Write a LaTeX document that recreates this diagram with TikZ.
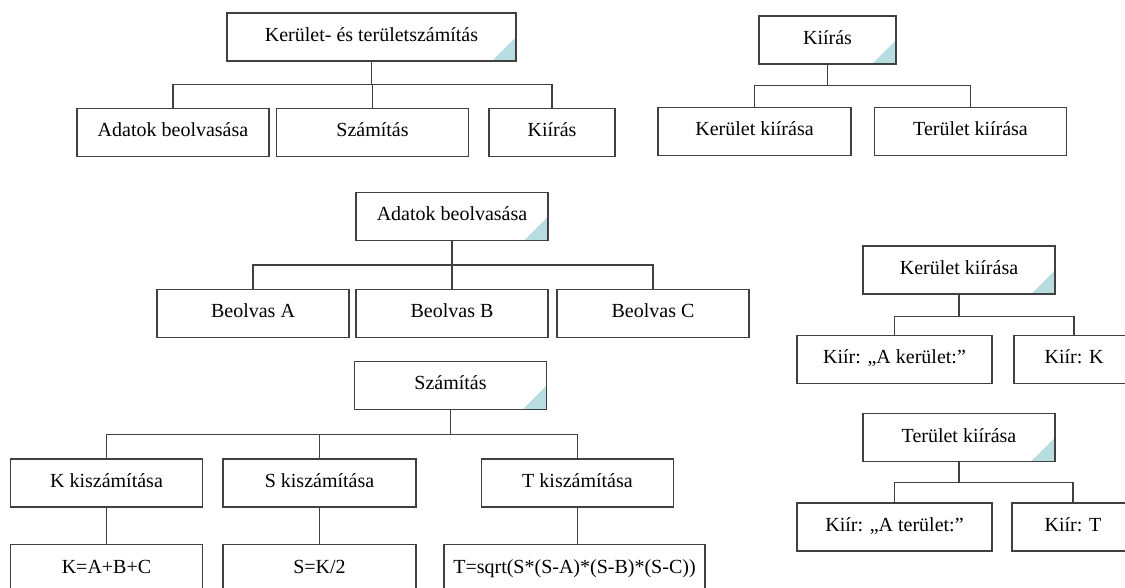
\documentclass[tikz,border=0pt]{standalone}
\usepackage{fontspec}
\setmainfont{Liberation Serif}
\definecolor{cornerblue}{RGB}{183,221,225}

\begin{document}
\begin{tikzpicture}[x=0.5pt,y=-0.5pt,
  box/.style={draw=black!75, line width=0.6pt, minimum width=96pt, minimum height=24pt,
    inner sep=0pt, text height=6.5pt, text depth=2pt, font=\fontsize{10}{12}\selectfont},
  boxw/.style={minimum width=#1*0.5pt},
  parent/.style={box, path picture={
    \fill[cornerblue] (path picture bounding box.south east) -- ++(-12pt,0) -- ++(12pt,12pt) -- cycle;}},
  link/.style={draw=black!75, line width=0.6pt}]

\useasboundingbox (0,0) rectangle (1125,588);
\clip (0,0) rectangle (1125,588);

% main program
\node[parent, boxw=289] (ker) at (371.5,37) {Kerület- és területszámítás};
\node[box] (adat) at (173,132.5) {Adatok beolvasása};
\node[box] (szam) at (372.5,132.5) {Számítás};
\node[box, boxw=126] (kiir) at (552,132.5) {Kiírás};
\foreach \c in {adat,szam,kiir}
  \draw[link] (ker.south) -- ++(0,23) -| (\c.north);

% output
\node[parent, boxw=137] (kiirp) at (827.5,40) {Kiírás};
\node[box, boxw=193] (kerk) at (754.5,131.5) {Kerület kiírása};
\node[box] (terk) at (970.5,131.5) {Terület kiírása};
\foreach \c in {kerk,terk}
  \draw[link] (kiirp.south) -- ++(0,21) -| (\c.north);

% input
\node[parent] (adatp) at (452,216.5) {Adatok beolvasása};
\node[box] (bA) at (253,313.5) {Beolvas A};
\node[box] (bB) at (452,313.5) {Beolvas B};
\node[box] (bC) at (653,313.5) {Beolvas C};
\foreach \c in {bA,bB,bC}
  \draw[link] (adatp.south) -- ++(0,24) -| (\c.north);

% calculation
\node[parent] (szamp) at (450.5,385.5) {Számítás};
\node[box] (kk) at (106.5,483) {K kiszámítása};
\node[box, boxw=193] (sk) at (319.5,483) {S kiszámítása};
\node[box] (tk) at (577.5,483) {T kiszámítása};
\foreach \c in {kk,sk,tk}
  \draw[link] (szamp.south) -- ++(0,24) -| (\c.north);

\node[box] (kf) at (106.5,568.5) {K=A+B+C};
\node[box, boxw=193] (sf) at (319.5,568.5) {S=K/2};
\node[box, boxw=261] (tf) at (574.5,568.5) {T=sqrt(S*(S-A)*(S-B)*(S-C))};
\draw[link] (kk) -- (kf);
\draw[link] (sk) -- (sf);
\draw[link] (tk.south) -- (tk.south |- tf.north);

% perimeter output
\node[parent] (kerp) at (959,270) {Kerület kiírása};
\node[box, boxw=195] (kA) at (894.5,359.5) {Kiír: „A kerület:”};
\node[box, boxw=120] (kK) at (1074,359.5) {Kiír: K};
\foreach \c in {kA,kK}
  \draw[link] (kerp.south) -- ++(0,22) -| (\c.north);

% area output
\node[parent] (terp) at (959,437.5) {Terület kiírása};
\node[box, boxw=195] (tA) at (894.5,527) {Kiír: „A terület:”};
\node[box, boxw=122] (tT) at (1073,527) {Kiír: T};
\foreach \c in {tA,tT}
  \draw[link] (terp.south) -- ++(0,20) -| (\c.north);

\end{tikzpicture}
\end{document}
